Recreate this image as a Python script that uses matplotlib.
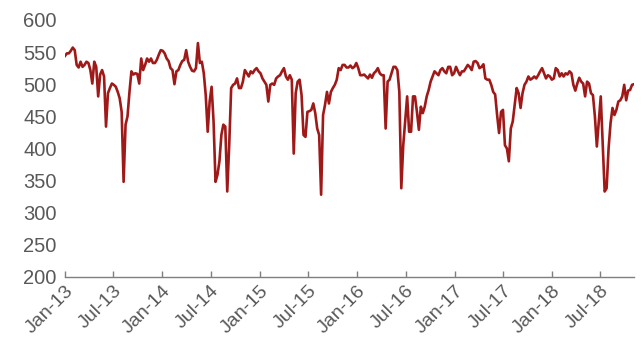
import matplotlib

matplotlib.use("Agg")
import matplotlib.dates as mdates
import matplotlib.pyplot as plt
import numpy as np
import pandas as pd

LINE_COLOR = "#A01919"
TEXT_COLOR = "#595959"

START_DATE = "2013-01-01"
END_DATE = "2018-11-04"

# roughly weekly observations, grouped by stretch of the series
values_2013a = [
    544, 548, 548, 552, 557, 553, 530, 526, 535, 527, 530, 535, 533, 522,
    501, 535, 527, 481, 515, 522, 512, 434, 486, 494, 501, 499, 496, 488,
    478, 457, 348, 437, 450, 488, 520, 515, 517, 516, 501, 540,
]
values_2013b = [
    522, 530, 540, 535, 540, 533, 533, 538, 546, 553, 552, 548, 540, 536,
    525, 522, 500, 520, 522, 530, 536, 538, 553, 535, 527, 521, 520, 525,
    564, 533, 535, 517, 483, 426, 473, 496, 442, 348, 359, 380, 421, 437,
    434,
]
values_2014 = [
    333, 405, 494, 499, 501, 509, 494, 494, 504, 522, 517, 512, 520, 517,
    522, 525, 520, 517, 509, 504, 499, 473, 499, 501, 499, 509, 512, 514,
    520, 525, 512, 507, 514, 507, 392, 486, 504, 507, 483, 421, 418,
]
values_2015 = [
    457, 458, 460, 470, 455, 431, 421, 328, 452, 468, 488, 470, 488, 494,
    499, 507, 525, 522, 530, 530, 526, 526, 529, 525, 527, 533, 525, 514,
    514, 515, 512, 509, 515, 510, 517, 520, 525, 517, 514, 514, 431,
]
values_2016 = [
    504, 507, 517, 527, 527, 522, 488, 338, 405, 442, 481, 426, 426, 481,
    481, 457, 429, 465, 455, 465, 481, 491, 504, 512, 520, 517, 514, 522,
    525, 520, 517, 527, 527, 514, 517, 527, 520, 514, 520, 520, 525,
]
values_2017 = [
    530, 527, 522, 535, 536, 533, 525, 527, 531, 509, 507, 507, 499, 488,
    484, 452, 424, 457, 460, 405, 400, 380, 431, 442, 468, 494, 486, 463,
    486, 499, 504, 512, 507, 509, 512, 509, 514, 520, 525, 517, 509, 514,
    512,
]
values_2018 = [
    507, 509, 525, 522, 512, 517, 512, 517, 515, 520, 517, 499, 490, 501,
    510, 504, 501, 481, 504, 501, 486, 483, 450, 403, 442, 481, 405, 333,
    338, 400, 439, 463, 452, 460, 473, 475, 481, 499, 475, 490, 491, 499,
    500,
]

Y_TICKS = [200, 250, 300, 350, 400, 450, 500, 550, 600]


def main() -> None:
    values = np.array(
        values_2013a + values_2013b + values_2014 + values_2015
        + values_2016 + values_2017 + values_2018,
        dtype=float,
    )
    dates = pd.date_range(START_DATE, END_DATE, periods=len(values))

    plt.rcParams["font.family"] = ["Liberation Sans", "DejaVu Sans"]
    fig = plt.figure(figsize=(6.43, 3.44), dpi=100)
    ax = fig.add_axes([0.101, 0.195, 0.885, 0.747])

    ax.plot(dates, values, color=LINE_COLOR, linewidth=1.9)

    ax.set_ylim(200, 600)
    ax.set_yticks(Y_TICKS)
    ax.set_xlim(dates[0], dates[-1])

    ax.xaxis.set_major_locator(mdates.MonthLocator(bymonth=[1, 7]))
    ax.xaxis.set_major_formatter(mdates.DateFormatter("%b-%y"))

    for side in ("top", "right", "left"):
        ax.spines[side].set_visible(False)
    ax.spines["bottom"].set_color("#7f7f7f")
    ax.spines["bottom"].set_linewidth(1.0)

    ax.tick_params(axis="y", length=0, labelsize=14.5, labelcolor=TEXT_COLOR, pad=6)
    ax.tick_params(
        axis="x", direction="in", length=4, width=1, color="#7f7f7f",
        labelsize=14, labelcolor=TEXT_COLOR, pad=4,
    )
    for label in ax.get_xticklabels():
        label.set_rotation(45)
        label.set_horizontalalignment("right")
        label.set_rotation_mode("anchor")

    fig.savefig("out.png", dpi=100)


if __name__ == "__main__":
    main()
